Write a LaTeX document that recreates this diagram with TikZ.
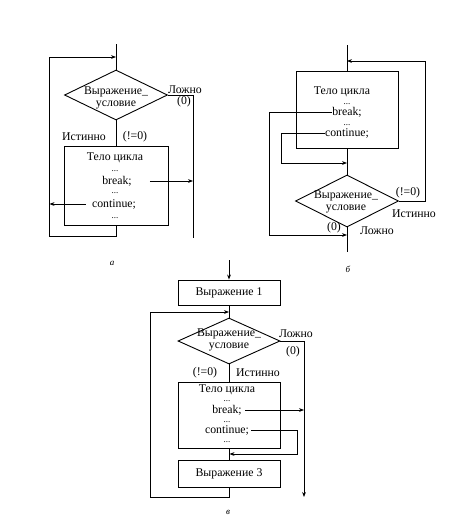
\documentclass[tikz,border=0pt]{standalone}
\usepackage{fontspec}
\setmainfont{Liberation Serif}
\usetikzlibrary{arrows.meta,shapes.geometric}
\newcommand\fsz{\fontsize{11.8}{12.5}\selectfont}
\tikzset{
  ln/.style={line width=0.9pt},
  arr/.style={ln,-{Stealth[length=5pt,width=3.8pt]}},
  blk/.style={draw,ln,rectangle,inner sep=0pt},
  dia/.style={draw,ln,diamond,inner sep=0pt},
  txt/.style={font=\fsz,inner sep=0pt},
  dtxt/.style={font=\fsz,inner sep=0pt,align=center},
  dots/.style={font=\fontsize{9}{9}\selectfont,inner sep=0pt,text height=1.2pt,text depth=0pt,anchor=base},
  figcap/.style={font=\fontsize{9}{10}\selectfont\itshape,inner sep=0pt}
}
\begin{document}
\begin{tikzpicture}[x=1pt,y=-1pt]
\useasboundingbox (0,0) rectangle (464,520);
% ================= a =================
\coordinate (ain) at (116,44);
\coordinate (ajoin) at (116,57);
\node[dia,minimum width=103pt,minimum height=50pt] (ad) at (116,95) {};
\node[dtxt] (adt) at (116,98) {Выражение\_\\условие};
\node[blk,minimum width=104pt,minimum height=79pt] (ab) at (116,185.5) {};
\node[txt] (at1) at (115,158) {Тело цикла};
\node[dots] (ad1) at (115,171) {...};
\node[txt] (abr) at (117,181) {break;};
\node[dots] (ad2) at (115,193) {...};
\node[txt] (aco) at (114,204) {continue;};
\node[dots] (ad3) at (115,218) {...};
\coordinate (aR) at (193,95);
\coordinate (aRe) at (193,238);
\coordinate (aB) at (116,236);
\coordinate (aBL) at (49,236);
\coordinate (aTL) at (49,57);
\coordinate (abrE) at (193,181);
\coordinate (acoE) at (49.5,204);
\draw[ln] (ain) -- (ad.north);
\draw[ln] (ad.south) -- (ab.north);
\draw[ln] (ad.east) -- (aR) -- (aRe);
\draw[arr] (ab.south) -- (aB) -- (aBL) -- (aTL) -- (ajoin);
\draw[arr] ([xshift=18pt]abr.east) -- (abrE);
\draw[arr] ([xshift=-6pt]aco.west) -- (acoE);
\node[txt] (alz) at (185,90) {Ложно};
\node[txt] (al0) at (184,102) {(0)};
\node[txt] (ait) at (84,137) {Истинно};
\node[txt] (ane) at (135,137) {(!=0)};
\node[figcap] (acap) at (112,263) {а};
% ================= б =================
\coordinate (bin) at (347,45);
\coordinate (bjoin) at (347,61);
\node[blk,minimum width=102pt,minimum height=77pt] (bb) at (347,109.5) {};
\node[txt] (bt1) at (342,92) {Тело цикла};
\node[dots] (bd1) at (347,104) {...};
\node[txt] (bbr) at (347,112) {break;};
\node[dots] (bd2) at (347,125) {...};
\node[txt] (bco) at (347,133) {continue;};
\node[dia,minimum width=103pt,minimum height=52pt] (bd) at (347,201) {};
\node[dtxt] (bdt) at (346,202) {Выражение\_\\условие};
\coordinate (bbr1) at (269,112);
\coordinate (bbr2) at (269,235);
\coordinate (bexit) at (347,235);
\coordinate (bco1) at (281,133);
\coordinate (bco2) at (281,163);
\coordinate (bjc) at (347,163);
\coordinate (bR) at (425,201);
\coordinate (bRT) at (425,61);
\coordinate (bend) at (347,252);
\draw[ln] (bin) -- (bb.north);
\draw[ln] (bb.south) -- (bd.north);
\draw[arr] (bd.east) -- (bR) -- (bRT) -- (bjoin);
\draw[arr] (bbr.west) -- (bbr1) -- (bbr2) -- (bexit);
\draw[arr] (bco.west) -- (bco1) -- (bco2) -- (bjc);
\draw[ln] (bd.south) -- (bend);
\node[txt] (bne) at (408,193) {(!=0)};
\node[txt] (bit) at (414,214) {Истинно};
\node[txt] (bl0) at (334,228) {(0)};
\node[txt] (blz) at (377,231) {Ложно};
\node[figcap] (bcap) at (348,269) {б};
% ================= в =================
\coordinate (cin) at (229,260);
\node[blk,minimum width=102pt,minimum height=25pt] (c1) at (229,292.5) {};
\node[txt] (c1t) at (229,292.5) {Выражение 1};
\coordinate (cjoin) at (229,312);
\node[dia,minimum width=102pt,minimum height=46pt] (cd) at (229,341) {};
\node[dtxt] (cdt) at (229,340) {Выражение\_\\условие};
\node[blk,minimum width=102pt,minimum height=66pt] (cb) at (229,415) {};
\node[txt] (ct1) at (227,390) {Тело цикла};
\node[dots] (cd1) at (227,401) {...};
\node[txt] (cbr) at (227,410) {break;};
\node[dots] (cd2) at (227,422) {...};
\node[txt] (cco) at (227,430) {continue;};
\node[dots] (cd3) at (227,442) {...};
\node[blk,minimum width=102pt,minimum height=27pt] (c3) at (229,473.5) {};
\node[txt] (c3t) at (229,473.5) {Выражение 3};
\coordinate (cR) at (304,341);
\coordinate (cRe) at (304,497);
\coordinate (cbrE) at (304,410);
\coordinate (cco1) at (297,430);
\coordinate (cco2) at (297,454);
\coordinate (cjc) at (229.5,454);
\coordinate (cB) at (229,497);
\coordinate (cBL) at (150,497);
\coordinate (cTL) at (150,312);
\draw[arr] (cin) -- (c1.north);
\draw[ln] (c1.south) -- (cd.north);
\draw[arr] (cd.east) -- (cR) -- (cRe);
\draw[ln] (cd.south) -- (cb.north);
\draw[ln] (cb.south) -- (c3.north);
\draw[arr] ([xshift=3pt]cbr.east) -- (cbrE);
\draw[arr] ([xshift=2pt]cco.east) -- (cco1) -- (cco2) -- (cjc);
\draw[arr] (c3.south) -- (cB) -- (cBL) -- (cTL) -- (cjoin);
\node[txt] (clz) at (296,334) {Ложно};
\node[txt] (cl0) at (293,352) {(0)};
\node[txt] (cne) at (205,373) {(!=0)};
\node[txt] (cit) at (258,373) {Истинно};
\node[figcap] (ccap) at (228,512) {в};
\end{tikzpicture}
\end{document}
